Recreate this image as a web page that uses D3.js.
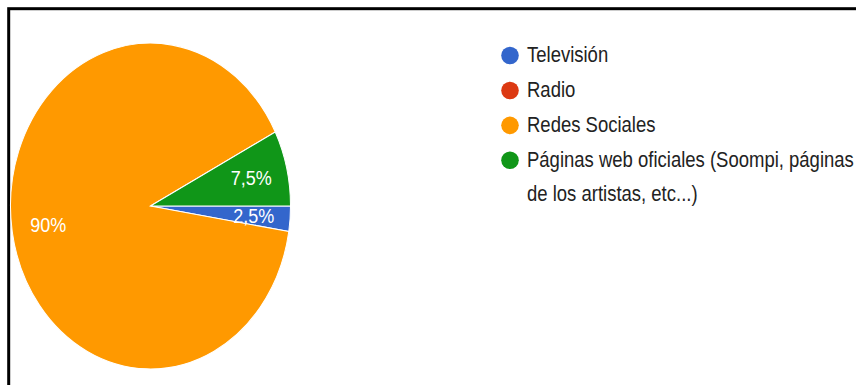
<!DOCTYPE html>
<html>
<head>
<meta charset="utf-8">
<script src="https://cdn.jsdelivr.net/npm/d3@7"></script>
<style>
  html, body { margin: 0; padding: 0; background: #fff; }
  svg { display: block; }
</style>
</head>
<body>
<svg id="chart" width="856" height="385"></svg>
<script>
// Source categories and their share of answers (%)
const categories = [
  "Televisión",
  "Radio",
  "Redes Sociales",
  "Páginas web oficiales (Soompi, páginas de los artistas, etc...)"
];
const shares = [2.5, 0, 90, 7.5];
const colors = ["#3366cc", "#dc3912", "#ff9900", "#109618"];

const W = 856, H = 385;
const k = 1.164;              // vertical stretch of the drawing
const cx = 150.5, cy = 177;   // pie centre (unstretched units)
const R = 140;
const FONT = "Arial, 'Liberation Sans', sans-serif";

const svg = d3.select("#chart");
svg.append("rect").attr("width", W).attr("height", H).attr("fill", "#fff");

// Frame around the chart
svg.append("rect")
  .attr("x", 8.7).attr("y", 8.7)
  .attr("width", W + 20).attr("height", H + 20)
  .attr("fill", "none").attr("stroke", "#000").attr("stroke-width", 3);

const g = svg.append("g").attr("transform", `scale(1,${k})`);

const pie = d3.pie().sort(null).value(d => d)
  .startAngle(Math.PI / 2).endAngle(Math.PI / 2 + 2 * Math.PI);
const arcs = pie(shares);
const arc = d3.arc().innerRadius(0).outerRadius(R);
const labelArc = d3.arc().innerRadius(R * 0.74).outerRadius(R * 0.74);

const fmt = d3.formatLocale({ decimal: ",", thousands: ".", grouping: [3], currency: ["", "€"] });
const pct = v => fmt.format("~f")(v) + "%";

const pieG = g.append("g").attr("transform", `translate(${cx},${cy})`);
pieG.selectAll("path")
  .data(arcs.filter(d => d.value > 0))
  .join("path")
  .attr("d", arc)
  .attr("fill", d => colors[d.index])
  .attr("stroke", "#fff")
  .attr("stroke-width", 1);

pieG.selectAll("text")
  .data(arcs.filter(d => d.value > 0))
  .join("text")
  .attr("transform", d => `translate(${labelArc.centroid(d)})`)
  .attr("text-anchor", "middle")
  .attr("dy", "0.36em")
  .attr("font-family", FONT)
  .attr("font-size", 18)
  .attr("fill", "#fff")
  .text(d => pct(d.value));

// Legend
const legX = 527, legY0 = 53.3, itemGap = 30, lineH = 29.3, maxW = 328;
let y = legY0;
categories.forEach((name, i) => {
  svg.append("circle")
    .attr("cx", 510).attr("cy", (y - 5.6) * k).attr("r", 8.8)
    .attr("fill", colors[i]);
  const t = g.append("text")
    .attr("x", legX).attr("y", y)
    .attr("font-family", FONT)
    .attr("font-size", 18.5)
    .attr("fill", "#222");
  // wrap long names onto several lines
  const words = name.split(" ");
  let line = [], lines = [];
  const probe = t.append("tspan");
  words.forEach(w => {
    const trial = line.concat(w).join(" ");
    probe.text(trial);
    if (probe.node().getComputedTextLength() > maxW && line.length) {
      lines.push(line.join(" "));
      line = [w];
    } else {
      line.push(w);
    }
  });
  lines.push(line.join(" "));
  probe.remove();
  lines.forEach((l, j) => {
    t.append("tspan").attr("x", legX).attr("y", y + j * lineH).text(l);
  });
  y += itemGap + (lines.length - 1) * lineH;
});
</script>
</body>
</html>
